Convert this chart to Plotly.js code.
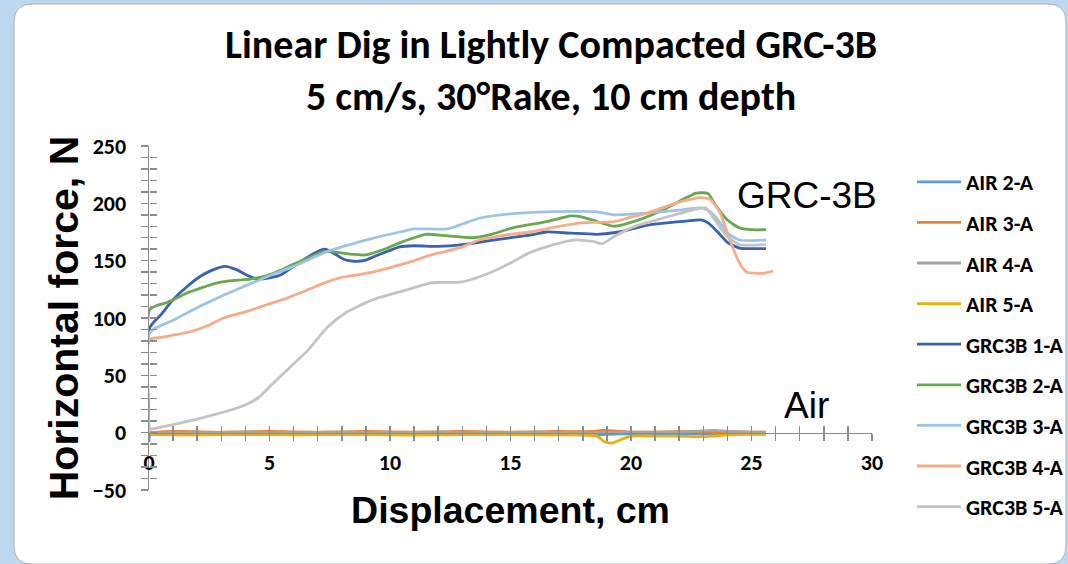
<!DOCTYPE html>
<html>
<head>
<meta charset="utf-8">
<script src="https://cdn.plot.ly/plotly-3.0.1.min.js"></script>
<style>html,body{margin:0;padding:0;background:#BDD7EE;}#chart{width:1068px;height:564px;}</style>
</head>
<body>
<div id="chart"></div>
<script>
// ---- data ----
const seriesNames = ["AIR 2-A","AIR 3-A","AIR 4-A","AIR 5-A","GRC3B 1-A","GRC3B 2-A","GRC3B 3-A","GRC3B 4-A","GRC3B 5-A"];
const seriesColors = ["#5B9BD5","#ED7D31","#A5A5A5","#E8B00F","#3A62B0","#6AA84F","#9DC3E6","#F4AC8A","#C4C4C4"];

const air2X = [0, 0.05, 1, 3, 5, 7, 9, 11, 13, 15, 17, 18.5, 19.5, 21, 23, 25, 25.6];
const air2Y = [-8, -2, -1.5, -1.5, -1, -1.5, -1, -1.5, -1, -1.5, -1.5, -2, -1, -1.5, -1, -1, -1];
const air3X = [0, 1, 3, 5, 7, 9, 11, 13, 15, 17, 18.5, 18.8, 20, 21, 23, 25, 25.6];
const air3Y = [0, 1, 0.5, 1, 0.5, 1, 0.5, 1, 0.5, 1, 1, 2, 0.5, 0.5, 1, 0.5, 0.5];
const air4X = [0, 2, 4, 6, 8, 10, 12, 14, 16, 18, 20, 22, 23, 23.5, 24, 25, 25.6];
const air4Y = [0, 0, 0.5, 0, 0.5, 0, 0.5, 0, 0.5, 0, 0.5, 0.5, 1.5, 2, 1, 0.5, 0.5];
const air5X = [0, 2, 4, 6, 8, 10, 12, 14, 16, 18, 18.6, 18.9, 19.2, 19.6, 20.0, 21, 22, 23, 24, 25, 25.6];
const air5Y = [-1.5, -2, -1.5, -2, -1.5, -2, -2, -1.5, -2, -2, -3, -8, -9, -6, -3, -3, -3, -3.5, -2, -1.5, -1.5];

const grc1X = [0, 0.02, 0.5, 1.0, 1.5, 2.1, 2.65, 3.15, 3.65, 4.05, 4.5, 5.0, 5.5, 6.0, 6.5, 7.0, 7.3, 7.7, 8.1, 8.5, 9.0, 9.5, 10.0, 10.4, 11.0, 12.0, 13.0, 14.0, 15.0, 16.0, 16.5, 17.5, 18.6, 19.5, 20.7, 21.5, 22.3, 22.9, 23.2, 23.6, 24.0, 24.5, 25.0, 25.6];
const grc1Y = [0, 91, 103, 116, 126, 136, 142, 145, 142, 137.5, 134, 135, 138, 145, 152, 158, 160, 156, 151, 149.5, 150.5, 155, 159, 162, 163, 162.5, 164, 167, 170, 173, 175, 174, 173, 175, 181, 183, 184.5, 185.5, 183, 175, 166, 161, 160.5, 160.5];
const grc2X = [0, 0.02, 0.33, 0.75, 1.2, 1.6, 2.2, 2.8, 3.2, 3.7, 4.2, 4.9, 5.5, 6.0, 6.6, 7.1, 7.5, 7.9, 8.5, 9.0, 9.7, 10.4, 11.0, 11.5, 12.4, 13.4, 14.2, 15.1, 16.5, 17.5, 17.9, 18.6, 19.3, 20.1, 21.3, 22.3, 22.7, 23.2, 23.4, 23.7, 24.0, 24.5, 25.0, 25.6];
const grc2Y = [0, 107, 111, 113.5, 118, 122, 126.5, 130.5, 132, 133, 134, 137, 142, 147, 152, 157, 158, 157, 155.5, 155, 159.5, 165.5, 170, 173, 171.6, 170, 173, 178.6, 184, 189, 188.5, 184, 180, 184, 194, 205, 209, 208.5, 202, 193, 185.5, 178.6, 177, 177];
const grc3X = [0, 0.02, 1, 2.1, 3, 4, 4.9, 6, 7.4, 8, 9, 10.4, 11, 12.4, 13, 13.7, 15.1, 16.5, 18.6, 19.3, 20.7, 22.0, 22.9, 23.3, 23.7, 24.0, 24.5, 25.0, 25.6];
const grc3Y = [0, 87, 98, 110, 119, 128, 136, 145, 158, 162, 168, 175, 177.7, 177.7, 182, 187, 191, 192.5, 192.5, 190, 191.6, 194, 196, 192.5, 183, 174, 168, 167.5, 168];
const grc4X = [0, 0.02, 0.5, 1.0, 1.7, 2.4, 3.1, 4.1, 5.1, 5.8, 6.6, 7.2, 7.9, 8.6, 9.3, 10.0, 10.7, 11.7, 12.1, 13.0, 13.7, 14.7, 15.8, 16.8, 17.9, 19.3, 20.0, 20.7, 21.3, 22.0, 22.9, 23.3, 23.7, 24.1, 24.5, 24.8, 25.2, 25.5, 25.9];
const grc4Y = [0, 81, 83, 85, 88, 93, 100, 106, 113, 118, 124.6, 130, 135, 137.5, 140, 144, 148, 155, 157, 162, 168, 172, 175, 179, 183, 184, 188, 191.6, 196, 201, 205, 203, 191.6, 168, 148, 140, 139, 139, 141];
const grc5X = [0, 1.0, 2.4, 3.8, 4.5, 5.1, 5.9, 6.6, 7.4, 8.2, 9.3, 10.7, 11.7, 12.1, 13.0, 14.1, 15.0, 15.8, 16.8, 17.6, 18.4, 18.8, 19.3, 20.1, 21.3, 22.7, 23.1, 23.4, 24.0, 24.5, 25.0, 25.6];
const grc5Y = [2.6, 7, 14, 22.6, 30, 42, 58, 72, 92, 105, 116, 124.6, 130.7, 131, 131.5, 139, 148, 157, 164, 168, 167, 164.6, 171, 179.5, 187, 195, 196, 188, 171, 164, 163.5, 164];

const xTickVals = [0, 5, 10, 15, 20, 25, 30];
const yTickVals = [-50, 0, 50, 100, 150, 200, 250];
const chartTitle = "Linear Dig in Lightly Compacted GRC-3B<br>5 cm/s, 30°Rake, 10 cm depth";
const xTitle = "Displacement, cm";
const yTitle = "Horizontal force, N";
const noteLabels = ["GRC-3B", "Air"];
const noteX = [27.3, 27.3];
const noteY = [207, 24];

// ---- build ----
const xs = [air2X, air3X, air4X, air5X, grc1X, grc2X, grc3X, grc4X, grc5X];
const ys = [air2Y, air3Y, air4Y, air5Y, grc1Y, grc2Y, grc3Y, grc4Y, grc5Y];
const traces = seriesNames.map((n, i) => ({
  type: "scatter", mode: "lines", name: n, x: xs[i], y: ys[i],
  legendgroup: "g" + i,
  line: {color: seriesColors[i], width: 2.8, shape: "spline", smoothing: 0.6}
}));
// empty helper trace so the overlaid tick-only axes (crossing ticks) get drawn
traces.push({type: "scatter", mode: "lines", x: [], y: [], xaxis: "x2", yaxis: "y2", showlegend: false, hoverinfo: "skip"});

const axisGrey = "#8C8C8C";
const calibri = "Carlito, Lato, sans-serif";
const arial = "'Liberation Sans', Arial, sans-serif";
const tickFont = {family: calibri, size: 22, color: "#000", weight: "bold"};
const L = 149, R = 196, T = 146, B = 74, W = 1068 - L - R, H = 564 - T - B;
const px = v => (v - L) / W, py = v => (564 - B - v) / H;
const x0 = px(14), x1 = px(1066), y0 = py(564), y1 = py(4), rx = 18 / W, ry = 18 / H;
const panelPath = `M${x0 + rx},${y1} L${x1 - rx},${y1} Q${x1},${y1} ${x1},${y1 - ry} L${x1},${y0 + ry} Q${x1},${y0} ${x1 - rx},${y0} L${x0 + rx},${y0} Q${x0},${y0} ${x0},${y0 + ry} L${x0},${y1 - ry} Q${x0},${y1} ${x0 + rx},${y1} Z`;

const zeroPos = 50 / 300;
const layout = {
  width: 1068, height: 564,
  margin: {l: L, r: R, t: T, b: B, autoexpand: false},
  paper_bgcolor: "#BDD7EE", plot_bgcolor: "rgba(0,0,0,0)",
  title: {text: chartTitle, x: 0.516, xanchor: "center", y: 0.897, yanchor: "top", yref: "container",
          font: {family: calibri, size: 40, color: "#000", weight: "bold"}},
  showlegend: true,
  legend: {xref: "container", yref: "container", x: 912 / 1068, xanchor: "left", y: (564 - 161) / 564, yanchor: "top",
           bgcolor: "rgba(0,0,0,0)", maxheight: 420,
           font: {family: calibri, size: 22, color: "#000", weight: "bold"},
           tracegroupgap: 9, itemwidth: 44, traceorder: "grouped"},
  xaxis: {range: [0, 30], anchor: "free", position: zeroPos, showgrid: false, zeroline: false,
          showline: true, linecolor: axisGrey, linewidth: 1.5,
          tickmode: "array", tickvals: xTickVals, ticks: "outside", ticklen: 7, tickwidth: 1.5, tickcolor: axisGrey,
          minor: {dtick: 1, tick0: 0, ticks: "outside", ticklen: 7, tickwidth: 1.5, tickcolor: axisGrey, showgrid: false},
          tickfont: tickFont, ticklabelstandoff: 2,
          title: {text: xTitle, font: {family: arial, size: 37.5, color: "#000", weight: "bold"}, standoff: 22}},
  xaxis2: {range: [0, 30], overlaying: "x", anchor: "free", position: zeroPos, showgrid: false, zeroline: false,
           showline: false, showticklabels: false,
           tickmode: "array", tickvals: xTickVals, ticks: "inside", ticklen: 7, tickwidth: 1.5, tickcolor: axisGrey,
           minor: {dtick: 1, tick0: 0, ticks: "inside", ticklen: 7, tickwidth: 1.5, tickcolor: axisGrey, showgrid: false}},
  yaxis: {range: [-50, 250], showgrid: false, zeroline: false, showline: true, linecolor: axisGrey, linewidth: 1.5,
          tickmode: "array", tickvals: yTickVals, ticks: "outside", ticklen: 7, tickwidth: 1.5, tickcolor: axisGrey,
          minor: {dtick: 10, tick0: 0, ticks: "outside", ticklen: 7, tickwidth: 1.5, tickcolor: axisGrey, showgrid: false},
          tickfont: tickFont, ticklabelstandoff: 10,
          title: {text: yTitle, font: {family: arial, size: 41, color: "#000", weight: "bold"}, standoff: 1}},
  yaxis2: {range: [-50, 250], overlaying: "y", anchor: "free", position: 0, showgrid: false, zeroline: false,
           showline: false, showticklabels: false,
           tickmode: "array", tickvals: yTickVals, ticks: "inside", ticklen: 7, tickwidth: 1.5, tickcolor: axisGrey,
           minor: {dtick: 10, tick0: 0, ticks: "inside", ticklen: 7, tickwidth: 1.5, tickcolor: axisGrey, showgrid: false}},
  shapes: [{type: "path", xref: "paper", yref: "paper", path: panelPath, fillcolor: "#FFFFFF",
            line: {color: "#A9B3BD", width: 1}, layer: "below"}],
  annotations: noteLabels.map((t, i) => ({x: noteX[i], y: noteY[i], xref: "x", yref: "y", text: t, showarrow: false,
            font: {family: arial, size: 37, color: "#000"}}))
};

Plotly.newPlot("chart", traces, layout, {staticPlot: true, displayModeBar: false});
</script>
</body>
</html>
